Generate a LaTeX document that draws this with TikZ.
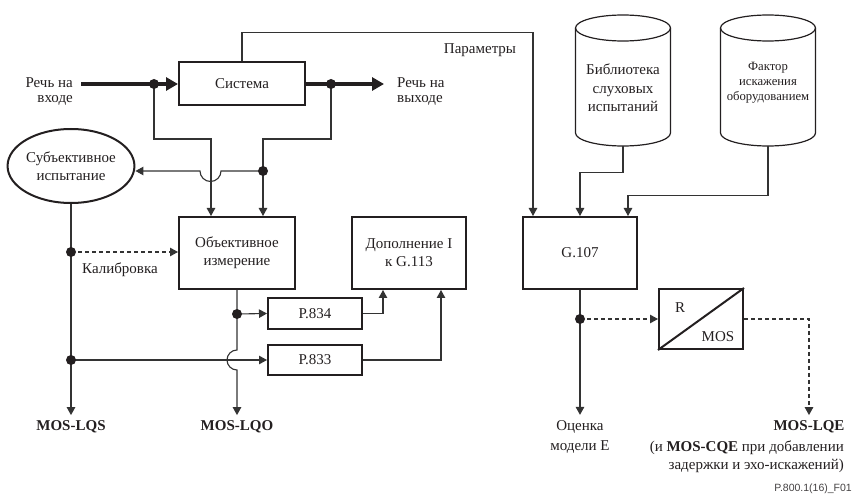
\documentclass[tikz,border=0pt]{standalone}
\usepackage{fontspec}
\setmainfont{Liberation Serif}
\newfontfamily\labsans{Liberation Sans}
\usetikzlibrary{arrows.meta,calc,shapes.geometric}
\definecolor{ink}{HTML}{231F20}
\definecolor{wire}{HTML}{333333}
\begin{document}
\begin{tikzpicture}[x=1pt,y=-1pt,
  every node/.style={text=ink},
  txt/.style={font=\fontsize{15}{18}\selectfont, align=center, inner sep=0pt},
  btxt/.style={font=\bfseries\fontsize{15}{18}\selectfont, align=center, inner xsep=0pt, inner ysep=5.5pt},
  blk/.style={draw=ink, line width=2pt, rectangle, inner sep=0pt, font=\fontsize{15}{18}\selectfont, align=center},
  conn/.style={draw=wire, line width=1.1pt, -{Triangle[length=8pt,width=8.5pt]}},
  dsh/.style={dash pattern=on 4pt off 3pt},
  sig/.style={draw=ink, line width=4pt, -{Triangle[length=12pt,width=13pt]}},
  cylline/.style={draw=ink, line width=1.2pt},
  dot/.style={fill=ink}
]
\useasboundingbox (0,0) rectangle (855,497);

% blocks
\node[blk, minimum width=126pt, minimum height=43pt] (sys) at (242,84) {Система};
\node[blk, minimum width=116pt, minimum height=72pt] (obj) at (237,253) {Объективное\\измерение};
\node[blk, minimum width=114pt, minimum height=72pt] (dop) at (409,253) {Дополнение I\\к G.113};
\node[blk, minimum width=94pt, minimum height=31pt] (p834) at (315,313.5) {P.834};
\node[blk, minimum width=94pt, minimum height=30pt] (p833) at (315,360) {P.833};
\node[blk, minimum width=114pt, minimum height=72pt] (g107) at (580,253) {G.107};
\node[blk, minimum width=84pt, minimum height=60pt] (rmos) at (701,319) {};
\node[blk, ellipse, minimum width=116pt, minimum height=74pt] (subj) at (71,166) {Субъективное\\испытание};

% cylinders
\node[minimum width=95pt, minimum height=131pt, inner sep=0pt] (cyl1) at (623,80.5) {};
\node[minimum width=95pt, minimum height=131pt, inner sep=0pt] (cyl2) at (768,80.5) {};
\draw[cylline] (623,28) ellipse [x radius=47.5pt, y radius=13pt];
\draw[cylline] (575.5,28) -- (575.5,133) arc[start angle=180, end angle=360, x radius=47.5pt, y radius=13pt] -- (670.5,28);
\draw[cylline] (768,28) ellipse [x radius=47.5pt, y radius=13pt];
\draw[cylline] (720.5,28) -- (720.5,133) arc[start angle=180, end angle=360, x radius=47.5pt, y radius=13pt] -- (815.5,28);
\node[txt, font=\fontsize{15}{18.5}\selectfont] (cyl1t) at (623,88) {Библиотека\\слуховых\\испытаний};
\node[txt, font=\fontsize{12.7}{15}\selectfont] (cyl2t) at (768,83) {Фактор\\искажения\\оборудованием};

% labels
\node[txt, anchor=east, align=right, font=\fontsize{15}{15}\selectfont] (inlab) at (73,91.5) {Речь на\\входе};
\node[txt, anchor=west, align=left, font=\fontsize{15}{15}\selectfont] (outlab) at (397,91.5) {Речь на\\выходе};
\node[txt] (par) at (480,50) {Параметры};
\node[txt] (cal) at (120,270) {Калибровка};
\node[btxt] (mlqs) at (71,427) {MOS-LQS};
\node[btxt] (mlqo) at (237,427) {MOS-LQO};
\node[txt, font=\fontsize{15}{20}\selectfont, inner xsep=0pt, inner ysep=5.5pt] (oce) at (580,437) {Оценка\\модели E};
\node[btxt] (mlqe) at (809,427) {MOS-LQE};
\node[txt, anchor=east, align=right] (note) at (844,457) {(и \textbf{MOS-CQE} при добавлении\\задержки и эхо-искажений)};
\node[txt] (rlab) at (680,308) {R};
\node[txt] (moslab) at (718,337) {MOS};
\node[font=\labsans\fontsize{10.5}{12}\selectfont, anchor=east, inner sep=0pt, text=ink!85] (fig) at (852,489) {P.800.1(16)\_F01};

% coordinates
\coordinate (inL) at (81,84);
\coordinate (outR) at (384,84);
\coordinate (din) at (154,84);
\coordinate (dout) at (331,84);
\coordinate (dmid) at (263,171);
\coordinate (dcal) at (71,252);
\coordinate (d833) at (71,360);
\coordinate (d834) at (237,314);
\coordinate (dg) at (580,319);

% signal
\draw[sig] (inL) -- (sys.west);
\draw[sig] (sys.east) -- (outR);

% connectors
\draw[conn] (din) -- ++(0,55) -| ($(obj.north west)+(33,0)$);
\draw[conn] (dout) -- ++(0,55) -| ($(obj.north west)+(85,0)$);
\draw[conn] (dmid) -- ++(-42,0) arc[start angle=0, end angle=-180, radius=10.5pt] -- (subj.east |- dmid);
\draw[conn] (sys.north) -- ++(0,-29) -| ($(g107.north west)+(11,0)$);
\draw[conn] (cyl1.south) -- ++(0,26) -| ($(g107.north west)+(58,0)$);
\draw[conn] (cyl2.south) -- ++(0,49) -| ($(g107.north west)+(106,0)$);
\draw[conn] (subj.south) -- (mlqs.north);
\draw[conn, dsh] (dcal) -- (obj.west |- dcal);
\draw[conn] (d833) -- (p833.west);
\draw[conn] (obj.south) -- ++(0,60) arc[start angle=90, end angle=270, radius=10pt] -- (mlqo.north);
\draw[conn] (d834) -- (p834.west);
\draw[conn] (p834.east) -| ($(dop.south west)+(32,0)$);
\draw[conn] (p833.east) -| ($(dop.south west)+(90,0)$);
\draw[conn] (g107.south) -- (oce.north);
\draw[conn, dsh] (dg) -- (rmos.west);
\draw[conn, dsh] (rmos.east) -| (mlqe.north);
\draw[draw=ink, line width=2pt] (rmos.south west) -- (rmos.north east);

% dots
\foreach \p in {din,dout,dmid,dcal,d833,d834,dg}
  \fill[dot] (\p) circle[radius=5pt];
\end{tikzpicture}
\end{document}
